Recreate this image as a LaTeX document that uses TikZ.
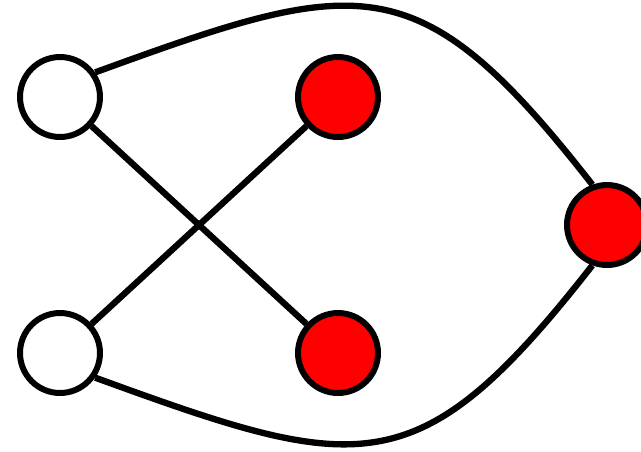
\documentclass[tikz,border=0pt]{standalone}
\usepackage{xcolor}
\usepackage{tikz}
\colorlet{redvert}{red}

\begin{document}
\begin{tikzpicture}[x=0.02cm, y=-0.02cm,
    vert/.style={circle, draw=black, line width=3.4pt, minimum size=1.6cm, inner sep=0pt},
    edge/.style={line width=3.6pt, draw=black}]
    \useasboundingbox (0,0) rectangle (641,451);
    \node[vert, fill=white] (w1) at (60, 97) {};
    \node[vert, fill=white] (w2) at (60, 353) {};
    \node[vert, fill=redvert] (r1) at (338, 97) {};
    \node[vert, fill=redvert] (r2) at (338, 353) {};
    \node[vert, fill=redvert] (r3) at (607, 225) {};

    \draw[edge] (w1) -- (r2);
    \draw[edge] (w2) -- (r1);
    \draw[edge] (w1.35) to[out=20, in=128, looseness=1.42] (r3.110);
    \draw[edge] (w2.-35) to[out=-20, in=-128, looseness=1.42] (r3.-110);
  \end{tikzpicture}
\end{document}
